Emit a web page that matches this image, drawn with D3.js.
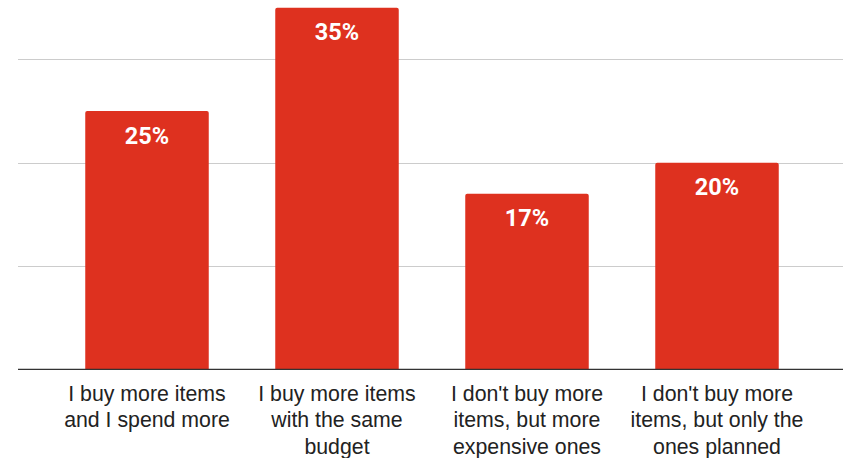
<!DOCTYPE html>
<html>
<head>
<meta charset="utf-8">
<script src="https://cdn.jsdelivr.net/npm/d3@7"></script>
<style>
  html, body { margin: 0; padding: 0; background: #fff; }
  svg { display: block; }
</style>
</head>
<body>
<svg id="chart" width="843" height="458"></svg>
<script>
// Survey answers and their share of respondents (%)
const categories = [
  ["I buy more items", "and I spend more"],
  ["I buy more items", "with the same", "budget"],
  ["I don't buy more", "items, but more", "expensive ones"],
  ["I don't buy more", "items, but only the", "ones planned"]
];
const values = [25, 35, 17, 20];
const gridTicks = [10, 20, 30];

const svg = d3.select("#chart");
const plotLeft = 18, plotRight = 843, baseY = 369.3;

const x = d3.scaleBand()
  .domain(d3.range(categories.length))
  .range([52, 812])
  .paddingInner(0.35)
  .paddingOuter(0.175);

const y = d3.scaleLinear().domain([0, 35]).range([baseY, baseY - 35 * 10.33]);

// horizontal gridlines
svg.append("g").selectAll("line").data(gridTicks).join("line")
  .attr("x1", plotLeft).attr("x2", plotRight)
  .attr("y1", d => Math.round(y(d)) + 0.5).attr("y2", d => Math.round(y(d)) + 0.5)
  .attr("stroke", "#cccccc").attr("stroke-width", 1);

// bars
svg.append("g").selectAll("path").data(values).join("path")
  .attr("fill", "#de311f")
  .attr("d", (d, i) => {
    const x0 = x(i), w = x.bandwidth(), top = y(d), bot = baseY, r = 2;
    return `M${x0},${bot} V${top + r} Q${x0},${top} ${x0 + r},${top} H${x0 + w - r} Q${x0 + w},${top} ${x0 + w},${top + r} V${bot} Z`;
  });

// baseline axis
svg.append("line")
  .attr("x1", plotLeft).attr("x2", plotRight)
  .attr("y1", baseY).attr("y2", baseY)
  .attr("stroke", "#333333").attr("stroke-width", 1.3);

// value labels inside bars
svg.append("g").selectAll("text").data(values).join("text")
  .attr("x", (d, i) => x(i) + x.bandwidth() / 2)
  .attr("y", d => y(d) + 32.5)
  .attr("text-anchor", "middle")
  .attr("fill", "#ffffff")
  .attr("font-family", "Roboto, sans-serif")
  .attr("font-weight", "bold")
  .attr("font-size", "23.5px")
  .text(d => d + "%");

// category labels
const lab = svg.append("g").selectAll("text").data(categories).join("text")
  .attr("x", (d, i) => x(i) + x.bandwidth() / 2)
  .attr("y", 400.7)
  .attr("text-anchor", "middle")
  .attr("fill", "#222222")
  .attr("font-family", "'Liberation Sans', Arial, sans-serif")
  .attr("font-size", "21.3px");
lab.selectAll("tspan").data(d => d).join("tspan")
  .attr("x", function () { return d3.select(this.parentNode).attr("x"); })
  .attr("dy", (d, j) => j === 0 ? 0 : 26.4)
  .text(d => d);
</script>
</body>
</html>
